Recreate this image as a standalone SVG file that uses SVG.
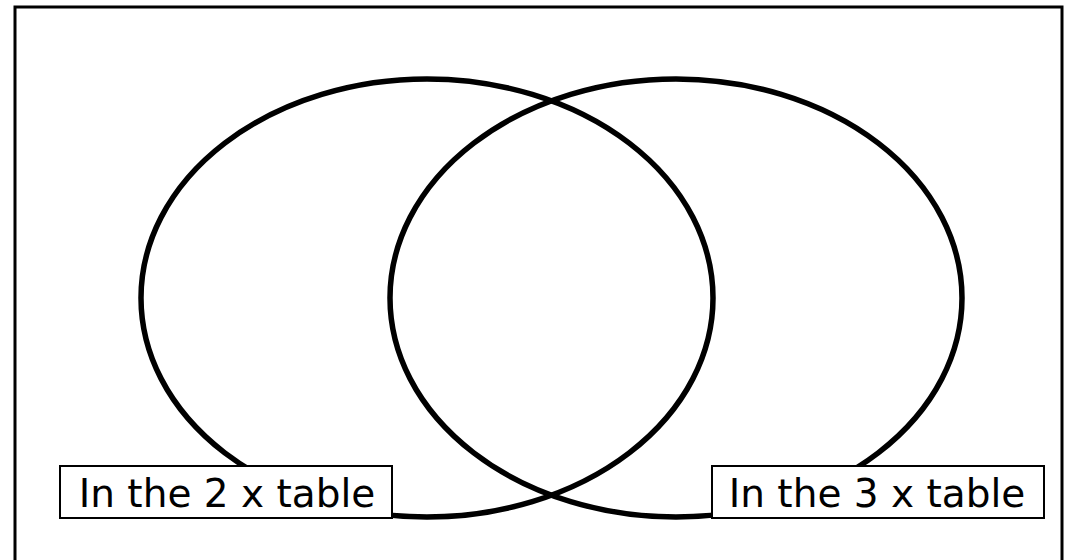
<svg xmlns="http://www.w3.org/2000/svg" width="1072" height="560" viewBox="0 0 1072 560">
<style>
.ring{fill:none;stroke:#000;stroke-width:5.5}
.lbl{fill:#fff;stroke:#000;stroke-width:2}
.txt{font-family:"DejaVu Sans","Liberation Sans",sans-serif;font-size:39px;fill:#000}
</style>
<rect x="0" y="0" width="1072" height="560" fill="#fff"/>
<rect x="15" y="7" width="1047" height="600" fill="none" stroke="#000" stroke-width="3"/>
<g id="set-2x"><ellipse class="ring" cx="427" cy="298" rx="286" ry="219"/></g>
<g id="set-3x"><ellipse class="ring" cx="676" cy="298" rx="286" ry="219"/></g>
<g id="label-2x"><rect class="lbl" x="60" y="466" width="332" height="52"/><text class="txt" x="227" y="507" text-anchor="middle">In the 2 x table</text></g>
<g id="label-3x"><rect class="lbl" x="712" y="466" width="332" height="52"/><text class="txt" x="877" y="507" text-anchor="middle">In the 3 x table</text></g>
</svg>
